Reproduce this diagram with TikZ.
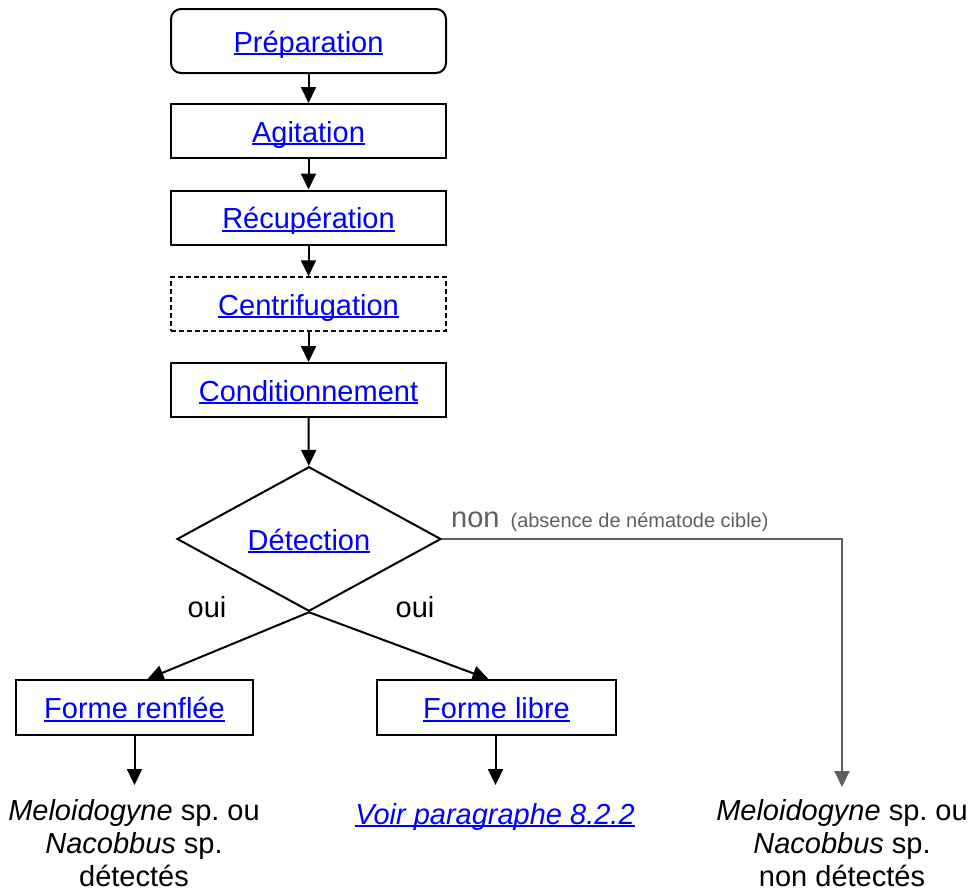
\documentclass[tikz,border=0pt]{standalone}
\usepackage{fontspec}
\setmainfont{Liberation Sans}
\usetikzlibrary{arrows.meta,shapes.geometric,calc}
\definecolor{lnk}{RGB}{0,0,255}
\definecolor{grayline}{RGB}{95,95,95}
\newcommand\ulk[1]{{\color{lnk}\setbox0\hbox{#1}\rlap{\rule[-0.11em]{\wd0}{0.075em}}\box0}}
\frenchspacing
\begin{document}
\begin{tikzpicture}[x=1pt,y=-1pt,
  every node/.style={font=\fontsize{29}{33}\selectfont},
  stepbox/.style={draw, line width=2pt, minimum width=275pt, minimum height=54pt,
    inner sep=0pt, text height=22pt, text depth=0pt},
  decision/.style={draw, diamond, line width=2pt, minimum width=264pt, minimum height=132pt,
    inner sep=0pt, text height=22pt, text depth=0pt},
  arr/.style={line width=2pt, -{Triangle[length=16pt,width=15pt]}},
  grayarr/.style={line width=2pt, draw=grayline, -{Triangle[length=16pt,width=15pt]}},
  lbl/.style={inner sep=0pt},
  result/.style={inner sep=0pt, align=center}]
\useasboundingbox (0,0) rectangle (973,892);

\node[stepbox, rounded corners=10pt, minimum height=64pt] (prep) at (308.5,41) {\ulk{Préparation}};
\node[stepbox] (agit) at (308.5,131) {\ulk{Agitation}};
\node[stepbox] (recup) at (308.5,217.5) {\ulk{Récupération}};
\node[stepbox, dashed, dash pattern=on 5pt off 3pt, line width=1.5pt] (centri) at (308.5,304) {\ulk{Centrifugation}};
\node[stepbox] (cond) at (308.5,390) {\ulk{Conditionnement}};
\node[decision] (det) at (309,539) {\ulk{Détection}};

\node[stepbox, minimum width=237pt, minimum height=55pt] (fr) at (134.5,707.5) {\ulk{Forme renflée}};
\node[stepbox, minimum width=239pt, minimum height=55pt] (fl) at (496.5,707.5) {\ulk{Forme libre}};

\draw[arr] (prep) -- (agit);
\draw[arr] (agit) -- (recup);
\draw[arr] (recup) -- (centri);
\draw[arr] (centri) -- (cond);
\draw[arr] (cond) -- (det);

\draw[arr] (det.south) -- ($(fr.north)+(13,0)$);
\draw[arr] (det.south) -- ($(fl.north)+(-8,0)$);

\node[lbl, anchor=base] (oui1) at (207,617) {oui};
\node[lbl, anchor=base] (oui2) at (415,617) {oui};

\coordinate (nonend) at (842,787);
\draw[grayarr] (det.east) -| (nonend);
\node[lbl, anchor=base west, text=grayline] (non) at (451,527)
  {non\hspace{11pt}{\fontsize{20}{24}\selectfont (absence de nématode cible)}};

\coordinate (e1) at (134.5,785);
\coordinate (e2) at (495.5,785);
\draw[arr] (fr.south) -- (e1);
\draw[arr] (fl.south -| e2) -- (e2);

\node[result, anchor=north] (res1) at (134,799)
  {\textit{Meloidogyne} sp. ou\\\textit{Nacobbus} sp.\\détectés};
\node[lbl, anchor=base] (voir) at (495,824) {\ulk{\textit{Voir paragraphe 8.2.2}}};
\node[result, anchor=north] (res2) at (842,799)
  {\textit{Meloidogyne} sp. ou\\\textit{Nacobbus} sp.\\non détectés};
\end{tikzpicture}
\end{document}
